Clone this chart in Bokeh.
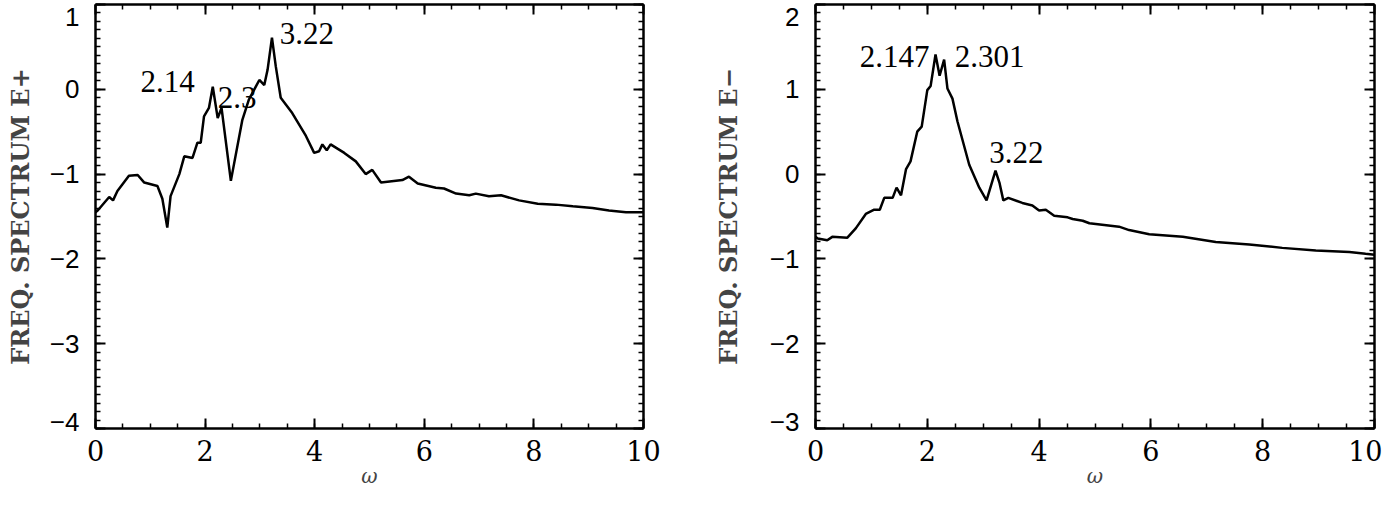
from bokeh.plotting import figure
from bokeh.layouts import row
from bokeh.models import (LinearAxis, SingleIntervalTicker, FixedTicker, Range1d,
                          CustomLabelingPolicy)
from bokeh.core.properties import value
from bokeh.embed import file_html
from bokeh.resources import INLINE

# ---- data: E+ frequency spectrum ----
omega_plus = [0.0, 0.04, 0.25, 0.32, 0.40, 0.61, 0.77, 0.89, 1.13, 1.22,
              1.31, 1.37, 1.53, 1.62, 1.77, 1.86, 1.92, 1.98, 2.07, 2.14,
              2.23, 2.30, 2.47, 2.68, 2.80, 2.99, 3.08, 3.14, 3.22, 3.29,
              3.38, 3.59, 3.84, 3.99, 4.08, 4.14, 4.22, 4.29, 4.54, 4.75,
              4.93, 5.05, 5.21, 5.60, 5.72, 5.88, 6.21, 6.36, 6.58, 6.82,
              6.94, 7.18, 7.40, 7.73, 8.07, 8.40, 8.71, 9.07, 9.37, 9.68,
              9.86, 10.0]
spec_plus = [-1.45, -1.43, -1.27, -1.31, -1.20, -1.02, -1.01, -1.10, -1.14, -1.29,
             -1.63, -1.26, -1.00, -0.79, -0.81, -0.63, -0.63, -0.32, -0.22, 0.03,
             -0.34, -0.22, -1.08, -0.36, -0.12, 0.11, 0.05, 0.23, 0.61, 0.27,
             -0.10, -0.28, -0.55, -0.75, -0.73, -0.65, -0.72, -0.65, -0.75, -0.85,
             -1.00, -0.95, -1.10, -1.07, -1.03, -1.11, -1.16, -1.17, -1.23, -1.25,
             -1.23, -1.26, -1.25, -1.31, -1.35, -1.36, -1.38, -1.40, -1.43, -1.45,
             -1.45, -1.45]
peak_text_plus = ["2.14", "2.3", "3.22"]
peak_x_plus = [0.82, 2.23, 3.36]
peak_y_plus = [0.09, -0.10, 0.66]

# ---- data: E- frequency spectrum ----
omega_minus = [0.0, 0.04, 0.21, 0.30, 0.57, 0.72, 0.90, 1.05, 1.15, 1.23,
               1.38, 1.45, 1.53, 1.62, 1.70, 1.82, 1.90, 2.00, 2.06, 2.147,
               2.22, 2.301, 2.36, 2.45, 2.54, 2.75, 2.93, 3.06, 3.22, 3.29,
               3.36, 3.45, 3.70, 3.88, 4.00, 4.12, 4.27, 4.51, 4.60, 4.78,
               4.90, 5.43, 5.61, 5.97, 6.57, 7.16, 7.76, 8.35, 8.95, 9.55,
               9.84, 10.0]
spec_minus = [-0.74, -0.76, -0.78, -0.74, -0.75, -0.64, -0.47, -0.42, -0.42, -0.28,
              -0.28, -0.16, -0.25, 0.06, 0.15, 0.50, 0.56, 0.99, 1.04, 1.41,
              1.16, 1.35, 1.01, 0.89, 0.62, 0.11, -0.16, -0.31, 0.04, -0.10,
              -0.31, -0.28, -0.34, -0.37, -0.43, -0.42, -0.49, -0.51, -0.53, -0.55,
              -0.58, -0.62, -0.66, -0.71, -0.74, -0.80, -0.83, -0.87, -0.90, -0.92,
              -0.94, -0.95]
peak_text_minus = ["2.147", "2.301", "3.22"]
peak_x_minus = [0.79, 2.49, 3.11]
peak_y_minus = [1.39, 1.39, 0.25]

x_title = "ω"
y_title_plus = "FREQ. SPECTRUM E+"
y_title_minus = "FREQ. SPECTRUM E−"
y_range_plus = (-4, 1)
y_range_minus = (-3, 2)

H = 498
X_TICK_FONT = "DejaVu Serif"
Y_TICK_FONT = "Liberation Sans"


def minus(v):
    return str(v).replace("-", "−")


def style_axis(ax, font=None):
    ax.axis_line_color = "black"
    ax.axis_line_width = 2.5
    ax.major_tick_line_color = "black"
    ax.major_tick_line_width = 2
    ax.minor_tick_line_color = "black"
    ax.minor_tick_line_width = 1.5
    ax.major_tick_in = 10
    ax.major_tick_out = 0
    ax.minor_tick_in = 5
    ax.minor_tick_out = 0
    if font:
        ax.major_label_text_font = font
        ax.major_label_text_font_size = "26px"
        ax.major_label_text_color = "black"
    else:
        ax.major_label_text_font_size = "1px"
        ax.major_label_standoff = 0
        ax.major_label_policy = CustomLabelingPolicy(code="return new Set()")


def make_panel(xs, ys, yr, y_title, width, b_left, b_right, b_bottom,
               ptext, px, py, ylab_standoff):
    p = figure(width=width, height=H, x_range=Range1d(0, 10),
               y_range=Range1d(*yr), output_backend="svg",
               toolbar_location=None, x_axis_location=None,
               y_axis_location=None, min_border_left=b_left,
               min_border_right=b_right, min_border_top=1,
               min_border_bottom=b_bottom)
    p.grid.visible = False
    p.outline_line_color = None
    p.background_fill_color = "white"
    p.border_fill_color = "white"

    xb = LinearAxis(ticker=SingleIntervalTicker(interval=2, num_minor_ticks=4),
                    axis_label=x_title)
    style_axis(xb, X_TICK_FONT)
    xb.major_label_text_font_size = "27px"
    xb.major_label_standoff = 11
    xb.axis_label_standoff = 0
    xb.axis_label_text_font = "DejaVu Serif"
    xb.axis_label_text_font_style = "italic"
    xb.axis_label_text_font_size = "20px"
    p.add_layout(xb, "below")

    xt = LinearAxis(ticker=SingleIntervalTicker(interval=2, num_minor_ticks=4))
    style_axis(xt)
    p.add_layout(xt, "above")

    # inner left axis: line and tick marks only
    y_major = list(range(yr[0], yr[1] + 1))
    y_minor = [yr[0] + k / 10 for k in range(10 * (yr[1] - yr[0]) + 1)]
    yi = LinearAxis(ticker=FixedTicker(ticks=y_major, minor_ticks=y_minor))
    style_axis(yi)
    p.add_layout(yi, "left")

    # outer left axis: values; the end values sit slightly inside the frame,
    # as in the original
    lab_pos = [yr[0] + 0.08] + y_major[1:-1] + [yr[1] - 0.15]
    yl = LinearAxis(ticker=FixedTicker(ticks=lab_pos, minor_ticks=[]),
                    axis_label=y_title,
                    major_label_overrides={float(pos): minus(v)
                                           for pos, v in zip(lab_pos, y_major)})
    style_axis(yl, Y_TICK_FONT)
    yl.axis_line_color = None
    yl.major_tick_in = 0
    yl.major_label_standoff = 12
    yl.axis_label_standoff = ylab_standoff
    yl.axis_label_text_font = "DejaVu Serif"
    yl.axis_label_text_font_style = "bold"
    yl.axis_label_text_font_size = "24px"
    p.add_layout(yl, "left")

    yrt = LinearAxis(ticker=SingleIntervalTicker(interval=1, num_minor_ticks=10))
    style_axis(yrt)
    p.add_layout(yrt, "right")

    p.line(xs, ys, line_color="black", line_width=2.5)
    p.text(px, py, text=ptext, text_font=value("Liberation Serif"),
           text_font_size="31px", text_color="black",
           text_align="left", text_baseline="middle")
    return p


p1 = make_panel(omega_plus, spec_plus, y_range_plus, y_title_plus,
                680, 95, 37, 70, peak_text_plus, peak_x_plus, peak_y_plus, 12)
p2 = make_panel(omega_minus, spec_minus, y_range_minus, y_title_minus,
                702, 135, 8, 70, peak_text_minus, peak_x_minus, peak_y_minus, 24)

layout = row(p1, p2)
html = file_html(layout, INLINE)
html = html.replace("<head>", "<head><style>html, body { overflow: hidden; }</style>", 1)
open("out.html", "w").write(html)
